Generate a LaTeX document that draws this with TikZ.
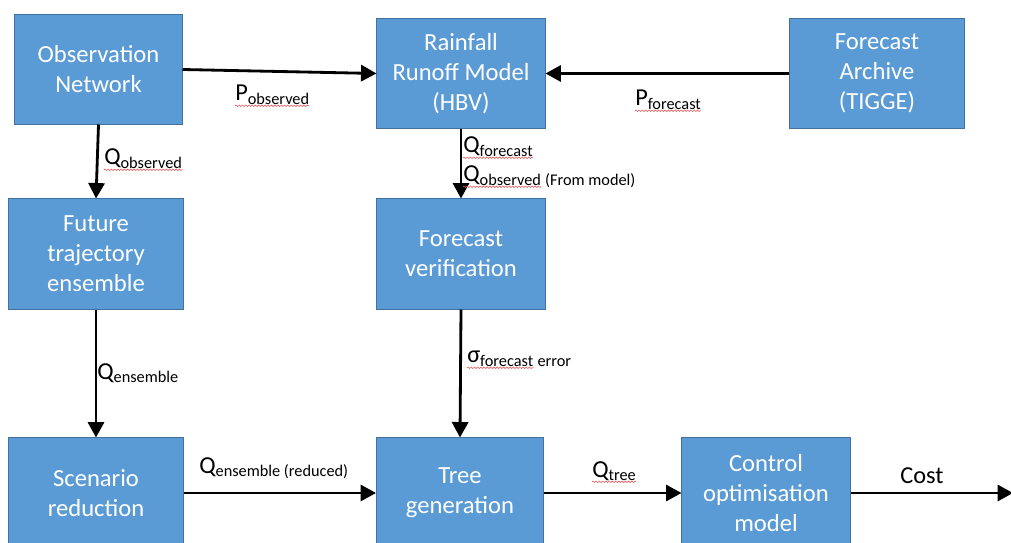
\documentclass[tikz,border=0pt]{standalone}
\usepackage{fontspec}
\setmainfont{Carlito}
\usetikzlibrary{arrows.meta,decorations.pathmorphing}

\definecolor{boxblue}{HTML}{5B9BD5}
\definecolor{boxline}{HTML}{41719C}
\definecolor{spellred}{HTML}{E06060}

% quantity with a lowered index
\newcommand\lowtext[1]{\raisebox{-2.3pt}{\fontsize{11.6}{14}\selectfont #1}}
\newcommand\flowlbl[2]{{\fontsize{17.3}{20}\selectfont #1}\lowtext{#2}}
% red wavy line under a label node
\newcommand\wavy[1]{\draw[squiggle] ([yshift=-3.4pt]#1.base west) -- ([yshift=-3.4pt]#1.base east);}

\tikzset{
  block/.style={rectangle, draw=boxline, fill=boxblue, line width=0.7pt,
    text=white, align=center, font=\fontsize{17.5}{21.3}\selectfont,
    minimum width=4.2cm, minimum height=2.75cm, inner sep=0pt},
  flow/.style={-{Triangle[length=11pt,width=11.5pt]}, line width=2pt},
  lbl/.style={anchor=base west, inner sep=0pt},
  squiggle/.style={draw=spellred, line width=0.45pt,
    decorate, decoration={snake, amplitude=0.55pt, segment length=2.3pt}}
}

\begin{document}
\begin{tikzpicture}[x=0.025cm, y=-0.025cm]

% Page size
\useasboundingbox (0,0) rectangle (1011,543);
\clip (0,0) rectangle (1011,543);

% Top row: inputs and the runoff model
\node[block, minimum width=4.175cm, minimum height=2.725cm] (obs) at (98.5,69.5) {Observation\\Network};
\node[block, minimum height=2.725cm] (rrm) at (461,73.5) {Rainfall\\Runoff Model\\(HBV)};
\node[block, minimum width=4.35cm, minimum height=2.725cm] (arch) at (877,73.5) {Forecast\\Archive\\(TIGGE)};

% Middle row
\node[block, minimum width=4.35cm] (fut) at (96,254) {Future\\trajectory\\ensemble};
\node[block] (ver) at (461,254) {Forecast\\verification};

% Bottom row
\node[block, minimum width=4.35cm] (scen) at (96,493) {Scenario\\reduction};
\node[block, minimum width=4.175cm] (tree) at (460,493) {Tree\\generation};
\node[block] (ctrl) at (766,493) {Control\\optimisation\\model};
\coordinate (out) at (1013,493);

% Connectors
\draw[flow] (obs.east) -- (rrm.west);
\draw[flow] (arch.west) -- (rrm.east);
\draw[flow] (obs.south) -- (fut.north);
\draw[flow] (rrm.south) -- (ver.north);
\draw[flow] (fut.south) -- (scen.north);
\draw[flow] (ver.south) -- (tree.north);
\draw[flow] (scen.east) -- (tree.west);
\draw[flow] (tree.east) -- (ctrl.west);
\draw[flow] (ctrl.east) -- (out);

% Labels of the flows
\node[lbl] (pobs) at (235,101) {\flowlbl{P}{observed}};
\node[lbl] (pfc) at (635,106) {\flowlbl{P}{forecast}};
\node[lbl] (qobs) at (104,165) {\flowlbl{Q}{observed}};
\node[lbl] (qfc) at (463,153) {\flowlbl{Q}{forecast}};
\node[lbl] (qmod) at (463,182) {\flowlbl{Q}{observed}};
\node[lbl] (qmodx) at (qmod.base east) {\lowtext{ (From model)}};
\node[lbl] (qens) at (97,379) {\flowlbl{Q}{ensemble}};
\node[lbl] (sig) at (467,363) {\flowlbl{σ}{forecast}};
\node[lbl] (sigx) at (sig.base east) {\lowtext{ error}};
\node[lbl] (qred) at (199,473) {\flowlbl{Q}{ensemble (reduced)}};
\node[lbl] (qtree) at (592,477) {\flowlbl{Q}{tree}};
\node[lbl] (cost) at (900,483) {\fontsize{17.3}{20}\selectfont Cost};

% Spelling marks
\foreach \n in {pobs,pfc,qobs,qfc,qmod,sig,qtree}
  {\wavy{\n}}

\end{tikzpicture}
\end{document}
